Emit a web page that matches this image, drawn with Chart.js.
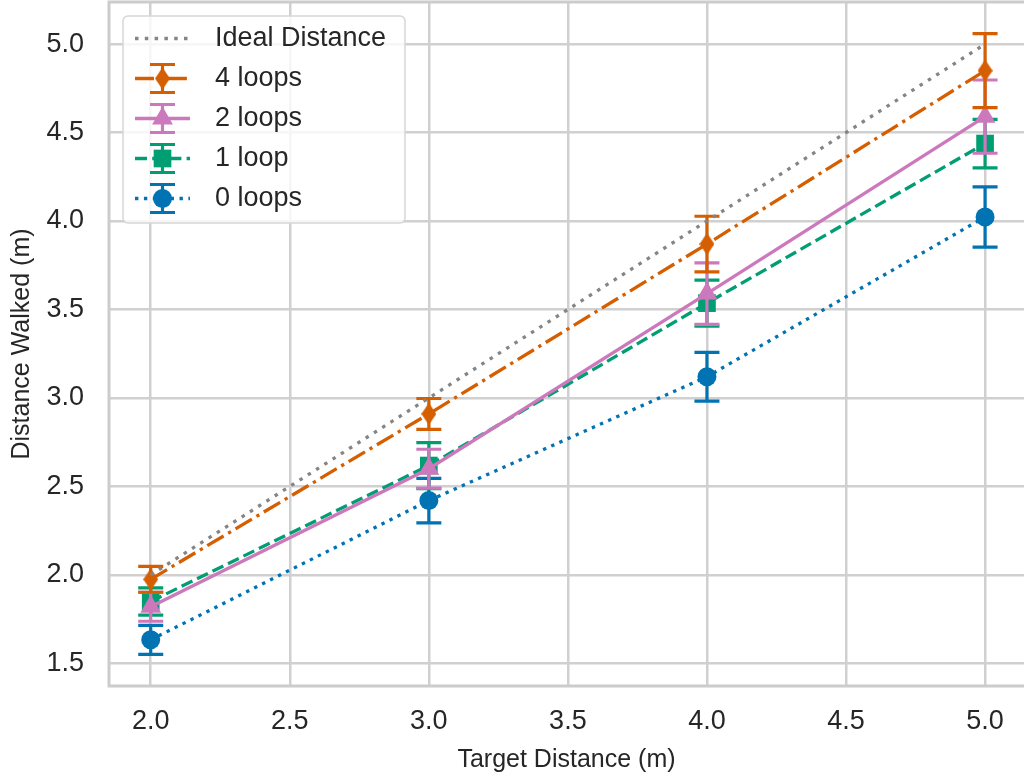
<!DOCTYPE html>
<html>
<head>
<meta charset="utf-8">
<script src="https://cdn.jsdelivr.net/npm/chart.js@4.4.1/dist/chart.umd.min.js"></script>
<style>
  html, body { margin: 0; padding: 0; background: #ffffff; overflow: hidden; }
  #wrap { width: 1024px; height: 775px; }
</style>
</head>
<body>
<div id="wrap"><canvas id="walkChart" width="1024" height="775"></canvas></div>
<script>
// target distances (m) and mean distance walked per loop count, with error half-widths
const targets = [2.0, 3.0, 4.0, 5.0];
const ideal = [2.0, 3.0, 4.0, 5.0];
const walked4 = [1.975, 2.91, 3.87, 4.85];
const err4 = [0.073, 0.087, 0.157, 0.209];
const walked2 = [1.82, 2.60, 3.59, 4.59];
const err2 = [0.082, 0.11, 0.174, 0.207];
const walked1 = [1.85, 2.618, 3.536, 4.438];
const err1 = [0.077, 0.13, 0.13, 0.137];
const walked0 = [1.633, 2.42, 3.12, 4.023];
const err0 = [0.082, 0.126, 0.138, 0.17];
const xTicks = [2.0, 2.5, 3.0, 3.5, 4.0, 4.5, 5.0];
const yTicks = [1.5, 2.0, 2.5, 3.0, 3.5, 4.0, 4.5, 5.0];

const FONT = '"Liberation Sans", Arial, Helvetica, sans-serif';
const TEXT = '#262626';
const GRID = '#d0d0d0';

function points(ys) {
  return targets.map((x, i) => ({ x: x, y: ys[i] }));
}

function thinDiamond(color, w, h) {
  const c = document.createElement('canvas');
  c.width = w; c.height = h;
  const g = c.getContext('2d');
  g.fillStyle = color;
  g.beginPath();
  g.moveTo(w / 2, 0); g.lineTo(w, h / 2); g.lineTo(w / 2, h); g.lineTo(0, h / 2);
  g.closePath();
  g.fill();
  return c;
}

const ORANGE = '#D55E00', PINK = '#CC78BC', GREEN = '#029E73', BLUE = '#0173B2', GRAY = '#858585';

function series(label, ys, errs, color, dash, style, radius) {
  return {
    label: label,
    data: points(ys),
    errors: errs,
    borderColor: color,
    backgroundColor: color,
    borderWidth: 3.3,
    borderDash: dash,
    borderCapStyle: 'butt',
    pointStyle: style,
    pointRadius: radius,
    pointBorderWidth: 0,
    pointBackgroundColor: color,
    showLine: true,
    tension: 0
  };
}

const datasets = [
  series('Ideal Distance', ideal, null, GRAY, [3.5, 6.3], false, 0),
  series('4 loops', walked4, err4, ORANGE, [19, 5.3, 3.3, 5.3], thinDiamond(ORANGE, 15, 22), 10),
  series('2 loops', walked2, err2, PINK, [], 'triangle', 12),
  series('1 loop', walked1, err1, GREEN, [12, 5.2], 'rect', 12.5),
  series('0 loops', walked0, err0, BLUE, [3.4, 5.5], 'circle', 9.5)
];

function drawErrorBar(ctx, x, top, bot, cap) {
  ctx.beginPath();
  ctx.moveTo(x, top); ctx.lineTo(x, bot);
  ctx.moveTo(x - cap, top); ctx.lineTo(x + cap, top);
  ctx.moveTo(x - cap, bot); ctx.lineTo(x + cap, bot);
  ctx.stroke();
}

// vertical error bars with caps, drawn under each series' line and markers
const errorBars = {
  id: 'errorBars',
  beforeDatasetDraw(chart, args) {
    const ds = chart.data.datasets[args.index];
    if (!ds.errors) return;
    const ys = chart.scales.y, ctx = chart.ctx;
    ctx.save();
    ctx.strokeStyle = ds.borderColor;
    ctx.lineWidth = 3.2;
    ctx.setLineDash([]);
    args.meta.data.forEach((pt, i) => {
      const v = ds.data[i].y, e = ds.errors[i];
      drawErrorBar(ctx, pt.x, ys.getPixelForValue(v + e), ys.getPixelForValue(v - e), 12.5);
    });
    ctx.restore();
  }
};

// light frame on the left, top and bottom of the plotting area
const frame = {
  id: 'frame',
  beforeDatasetsDraw(chart) {
    const a = chart.chartArea, ctx = chart.ctx;
    ctx.save();
    ctx.strokeStyle = '#cccccc';
    ctx.lineWidth = 3;
    ctx.beginPath();
    ctx.moveTo(a.right + 2, a.top);
    ctx.lineTo(a.left, a.top);
    ctx.lineTo(a.left, a.bottom);
    ctx.lineTo(a.right + 2, a.bottom);
    ctx.stroke();
    ctx.restore();
  }
};

// legend with line, marker and error bar handles
const legendBox = {
  id: 'legendBox',
  afterDraw(chart) {
    const ctx = chart.ctx, a = chart.chartArea;
    const x0 = a.left + 14, y0 = a.top + 14, w = 282, h = 207;
    ctx.save();
    ctx.fillStyle = 'rgba(255,255,255,0.8)';
    ctx.strokeStyle = '#d6d6d6';
    ctx.lineWidth = 1.5;
    ctx.beginPath();
    ctx.roundRect(x0, y0, w, h, 5);
    ctx.fill();
    ctx.stroke();
    chart.data.datasets.forEach((ds, i) => {
      const cy = y0 + 22.5 + i * 40;
      const cx = x0 + 39.5;
      ctx.strokeStyle = ds.borderColor;
      ctx.lineWidth = 3.3;
      ctx.lineCap = 'butt';
      ctx.setLineDash(ds.borderDash);
      ctx.beginPath();
      ctx.moveTo(x0 + 12, cy); ctx.lineTo(x0 + 67, cy);
      ctx.stroke();
      ctx.setLineDash([]);
      if (ds.errors) {
        ctx.lineWidth = 3.2;
        drawErrorBar(ctx, cx, cy - 14, cy + 14, 12.5);
        ctx.fillStyle = ds.borderColor;
        Chart.helpers.drawPoint(ctx, {
          pointStyle: ds.pointStyle, radius: ds.pointRadius, rotation: 0, borderWidth: 0
        }, cx, cy);
      }
      ctx.fillStyle = TEXT;
      ctx.font = '27px ' + FONT;
      ctx.textBaseline = 'middle';
      ctx.textAlign = 'left';
      ctx.fillText(ds.label, x0 + 92, cy);
    });
    ctx.restore();
  }
};

function noPadding(scale) {
  scale.paddingTop = 0; scale.paddingBottom = 0;
  scale.paddingLeft = 0; scale.paddingRight = 0;
}

const ctx = document.getElementById('walkChart').getContext('2d');
const walkChart = new Chart(ctx, {
  type: 'scatter',
  data: { datasets: datasets },
  options: {
    responsive: false,
    animation: false,
    devicePixelRatio: 1,
    layout: { autoPadding: false, padding: { top: 2, right: 0, left: 0, bottom: 0 } },
    plugins: {
      legend: { display: false },
      tooltip: { enabled: false }
    },
    scales: {
      x: {
        type: 'linear',
        min: 1.85,
        max: 5.14,
        afterBuildTicks: (s) => { s.ticks = xTicks.map(v => ({ value: v })); },
        afterFit: (s) => { s.height = 89; noPadding(s); },
        grid: { color: GRID, lineWidth: 2.5, drawTicks: false },
        border: { display: false },
        ticks: {
          padding: 19,
          color: TEXT,
          font: { family: FONT, size: 27 },
          callback: (v) => Number(v).toFixed(1)
        },
        title: {
          display: true,
          text: 'Target Distance (m)',
          color: TEXT,
          font: { family: FONT, size: 25 },
          padding: { top: 3, bottom: 0 }
        }
      },
      y: {
        type: 'linear',
        min: 1.372,
        max: 5.238,
        afterBuildTicks: (s) => { s.ticks = yTicks.map(v => ({ value: v })); },
        afterFit: (s) => { s.width = 109; noPadding(s); },
        grid: { color: GRID, lineWidth: 2.5, drawTicks: false },
        border: { display: false },
        ticks: {
          padding: 25,
          color: TEXT,
          font: { family: FONT, size: 27 },
          callback: (v) => Number(v).toFixed(1)
        },
        title: {
          display: true,
          text: 'Distance Walked (m)',
          color: TEXT,
          font: { family: FONT, size: 25 },
          padding: { top: 7, bottom: 0 }
        }
      }
    }
  },
  plugins: [errorBars, frame, legendBox]
});
</script>
</body>
</html>
